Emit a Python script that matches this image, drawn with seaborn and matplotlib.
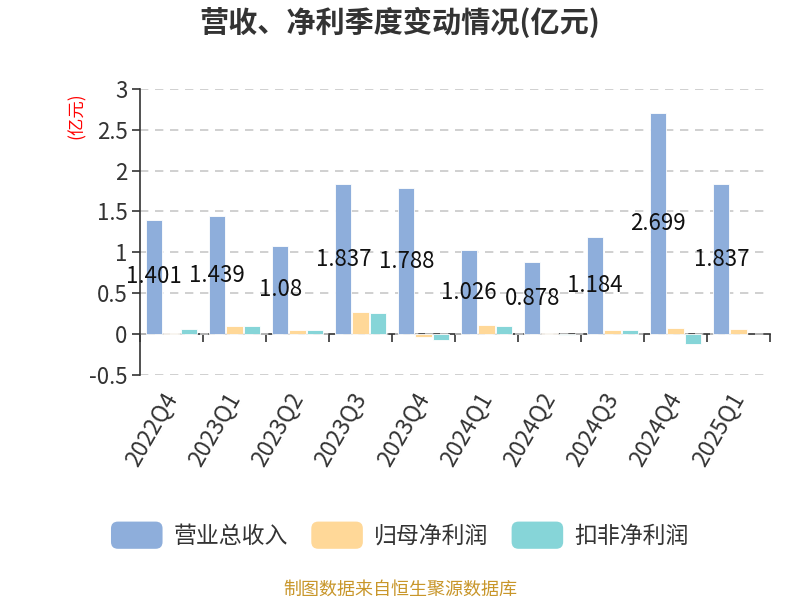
import numpy as np
import pandas as pd
import seaborn as sns
import matplotlib
matplotlib.use("Agg")
import matplotlib.pyplot as plt
from matplotlib.patches import FancyBboxPatch
from matplotlib.legend_handler import HandlerPatch

quarters = ["2022Q4", "2023Q1", "2023Q2", "2023Q3", "2023Q4",
            "2024Q1", "2024Q2", "2024Q3", "2024Q4", "2025Q1"]
revenue = [1.401, 1.439, 1.08, 1.837, 1.788, 1.026, 0.878, 1.184, 2.699, 1.837]
net_profit = [0.01, 0.10, 0.053, 0.27, -0.03, 0.11, 0.01, 0.045, 0.074, 0.065]
deducted_profit = [0.057, 0.098, 0.049, 0.26, -0.07, 0.10, -0.012, 0.045, -0.126, np.nan]
series_names = ["营业总收入", "归母净利润", "扣非净利润"]
colors = ["#8eaedb", "#ffd898", "#86d5d8"]
yticks = [-0.5, 0, 0.5, 1, 1.5, 2, 2.5, 3]

sns.set_theme(style="white")
plt.rcParams["font.family"] = ["Noto Sans CJK SC", "DejaVu Sans"]

df = pd.DataFrame({
    "季度": quarters * 3,
    "值": revenue + net_profit + deducted_profit,
    "类型": [series_names[0]] * 10 + [series_names[1]] * 10 + [series_names[2]] * 10,
})

fig = plt.figure(figsize=(8, 6), dpi=100)
ax = fig.add_axes([0.175, 0.375, 0.7875, 0.477])
sns.barplot(data=df, x="季度", y="值", hue="类型", palette=colors, ax=ax,
            width=0.82, gap=0.06, legend=False, saturation=1,
            linewidth=0.6, edgecolor="#ffffff")

ax.set_xlim(-0.5, len(quarters) - 0.5)
ax.set_ylim(-0.5, 3)
ax.set_yticks(yticks)
ax.set_yticklabels([("%g" % v) for v in yticks], fontsize=16, color="#333333")
ax.yaxis.grid(True, linestyle=(0, (5, 4)), color="#c8c8c8", linewidth=1.2)
ax.set_axisbelow(True)
for s in ["top", "right", "bottom"]:
    ax.spines[s].set_visible(False)
ax.spines["left"].set_color("#333333")
ax.spines["left"].set_linewidth(1.2)
ax.tick_params(axis="y", length=6, width=1.2, color="#333333", direction="out", pad=3, left=True)
ax.set_xlabel("")
ax.set_ylabel("")
ax.set_xticks(range(len(quarters)))
ax.set_xticklabels(quarters, rotation=60, ha="right", va="center", rotation_mode="anchor",
                   fontsize=16.5, color="#333333")
ax.tick_params(axis="x", length=0, pad=14)

# zero axis line with boundary ticks
sec = ax.secondary_xaxis(0.5 / 3.5)
sec.set_xticks(np.arange(-0.5, len(quarters), 1.0))
sec.set_xticklabels([])
sec.spines["bottom"].set_color("#333333")
sec.spines["bottom"].set_linewidth(1.2)
sec.tick_params(axis="x", length=6, width=1.2, color="#333333", direction="out")

# revenue labels
rev_bars = ax.containers[0]
for bar, v in zip(rev_bars, revenue):
    cx = bar.get_x() + bar.get_width() / 2
    ax.text(cx, v / 2, ("%g" % v), ha="center", va="center", fontsize=16, color="#111111")

fig.text(0.5, 0.962, "营收、净利季度变动情况(亿元)", ha="center", va="center",
         fontsize=21, fontweight="bold", color="#333333")
fig.text(0.096, 0.808, "(亿元)", ha="center", va="center", rotation=90,
         fontsize=12.5, color="red")
fig.text(0.5, 0.017, "制图数据来自恒生聚源数据库", ha="center", va="center",
         fontsize=13, color="#c8962a")


class RoundHandler(HandlerPatch):
    def create_artists(self, legend, orig_handle, xdescent, ydescent, width, height, fontsize, trans):
        p = FancyBboxPatch((-xdescent, -ydescent), width, height,
                           boxstyle="round,pad=0,rounding_size=5",
                           facecolor=orig_handle.get_facecolor(), edgecolor="none",
                           transform=trans)
        return [p]


handles = [plt.Rectangle((0, 0), 1, 1, facecolor=c) for c in colors]
fig.legend(handles, series_names, loc="center", bbox_to_anchor=(0.5, 0.108), ncol=3,
           frameon=False, fontsize=16.5, handlelength=2.25, handleheight=1.45,
           columnspacing=1.0, handletextpad=0.5, labelcolor="#333333",
           handler_map={plt.Rectangle: RoundHandler()})

fig.savefig("out.png", dpi=100)
